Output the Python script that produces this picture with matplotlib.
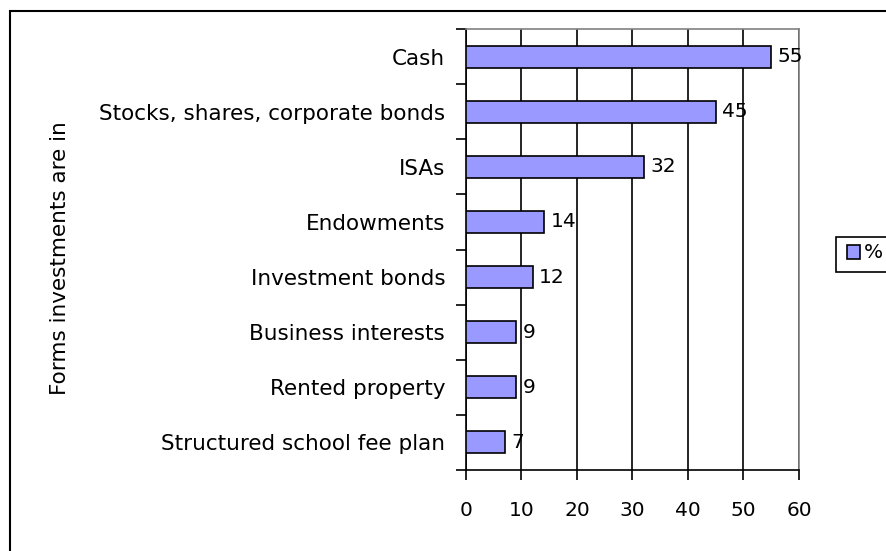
import matplotlib
matplotlib.use("Agg")
import matplotlib.pyplot as plt
from matplotlib.patches import Rectangle
from matplotlib.ticker import FixedLocator

categories = [
    "Cash",
    "Stocks, shares, corporate bonds",
    "ISAs",
    "Endowments",
    "Investment bonds",
    "Business interests",
    "Rented property",
    "Structured school fee plan",
]
values = [55, 45, 32, 14, 12, 9, 9, 7]
x_ticks = [0, 10, 20, 30, 40, 50, 60]
series_name = "%"
y_title = "Forms investments are in"

W, H = 887, 551
plt.rcParams["font.family"] = ["DejaVu Sans"]
FS_TEXT = 15.5
FS_NUM = 14.5

fig = plt.figure(figsize=(W / 100, H / 100), dpi=100)

# outer chart frame
fig.patches.append(Rectangle((10 / W, 0 - 0.01), 1.0, (H - 11) / H + 0.01,
                             transform=fig.transFigure, fill=False,
                             edgecolor="black", linewidth=1.5))

left, right, top, bottom = 466, 799, 29, 470
ax = fig.add_axes([left / W, (H - bottom) / H, (right - left) / W, (bottom - top) / H])

n = len(categories)
ypos = [n - 1 - i for i in range(n)]
ax.barh(ypos, values, height=0.4, color="#9999FF", edgecolor="black",
        linewidth=1.2, zorder=3)
for y, v in zip(ypos, values):
    ax.text(v + 1.2, y, f"{v}", va="center", ha="left", fontsize=FS_NUM, zorder=4)

ax.set_xlim(0, 60)
ax.set_ylim(-0.5, n - 0.5)
ax.set_xticks(x_ticks)
ax.set_xticklabels([str(t) for t in x_ticks], fontsize=FS_NUM)
ax.tick_params(axis="x", length=7, width=1.2, pad=15, direction="out")

ax.set_yticks(ypos)
ax.set_yticklabels(categories, fontsize=FS_TEXT)
ax.tick_params(axis="y", which="major", length=0, pad=15)
ax.yaxis.set_minor_locator(FixedLocator([i - 0.5 for i in range(n + 1)]))
ax.tick_params(axis="y", which="minor", length=7, width=1.2, direction="out")

ax.grid(axis="x", color="black", linewidth=1.2, zorder=1)
ax.set_axisbelow(True)
for s in ("left", "bottom"):
    ax.spines[s].set_color("black")
    ax.spines[s].set_linewidth(1.2)
for s in ("top", "right"):
    ax.spines[s].set_color("#808080")
    ax.spines[s].set_linewidth(1.2)

fig.text(60 / W, (H - 258) / H, y_title, rotation=90, ha="center", va="center",
         fontsize=FS_TEXT)

# legend box
fig.patches.append(Rectangle((836 / W, (H - 272) / H), 0.2, 35 / H,
                             transform=fig.transFigure, fill=True,
                             facecolor="white", edgecolor="black", linewidth=1.2))
fig.patches.append(Rectangle((847 / W, (H - 259) / H), 13 / W, 14 / H,
                             transform=fig.transFigure, facecolor="#9999FF",
                             edgecolor="black", linewidth=1.2))
fig.text(864 / W, (H - 253) / H, series_name, ha="left", va="center", fontsize=FS_NUM)

fig.savefig("out.png", dpi=100)
